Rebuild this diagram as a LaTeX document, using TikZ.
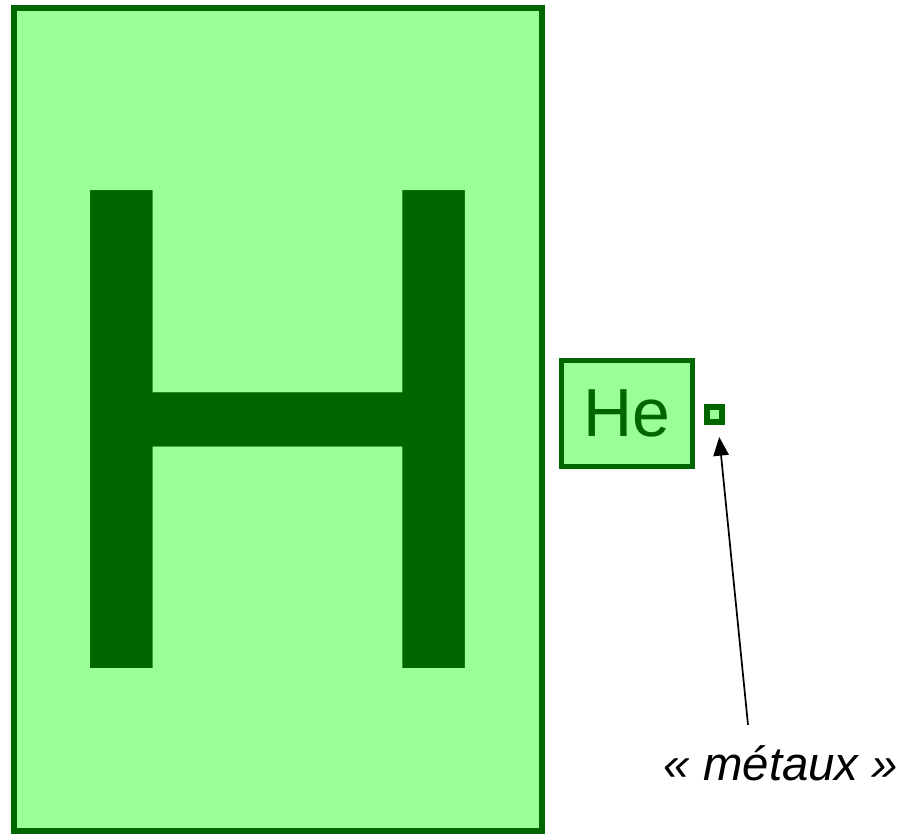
\documentclass[tikz,border=0pt]{standalone}
\usepackage{fontspec}
\setmainfont{Liberation Sans}
\usepackage{graphicx}
\usepackage{tikz}
\usetikzlibrary{arrows.meta, positioning}

\definecolor{elemfill}{HTML}{99FF99}
\definecolor{elemdark}{HTML}{006600}

\tikzset{
    elembox/.style={rectangle, draw=elemdark, fill=elemfill, text=elemdark, inner sep=0pt},
    pointer/.style={-{Triangle[length=14pt, width=11.5pt]}, line width=1.3pt}
}

\begin{document}
\begin{tikzpicture}[x=0.75pt, y=-0.75pt]
    \useasboundingbox (0,0) rectangle (903,834);
    \node [elembox, line width=4.5pt, minimum width=396pt, minimum height=617pt, text height=373.5pt, font=\fontsize{521}{521}\selectfont] (hydro) at (277.5,419.5) {\scalebox{0.966}[1]{H}};
    \node [elembox, line width=3.75pt, minimum width=98.25pt, minimum height=79.5pt, font=\fontsize{51}{51}\selectfont] (helium) at (627,413.5) {He};
    \node [elembox, line width=4.5pt, minimum size=11.25pt] (metal) at (714.5,414) {};
    \node [anchor=base, inner xsep=0pt, inner ysep=15pt, font=\fontsize{35.5}{35.5}\selectfont\itshape] (metaux) at (781,780) {« métaux »};

    \draw [pointer, shorten >=9.4pt] ([xshift=-24.75pt]metaux.north) -- ([xshift=2.6pt]metal.south);
\end{tikzpicture}
\end{document}
